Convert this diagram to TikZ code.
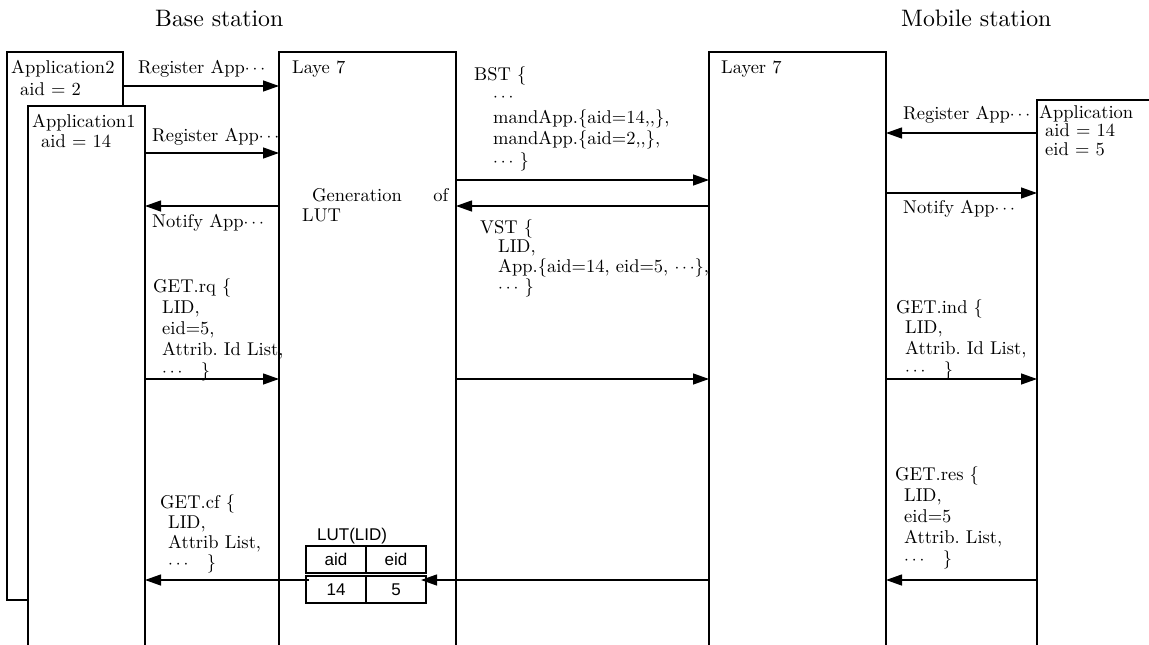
\documentclass[tikz,border=0pt]{standalone}
\usepackage{fontspec}
\setmainfont{lmroman10-regular.otf}
\newfontfamily\lutfont{Liberation Sans}
\usetikzlibrary{arrows.meta, positioning}

\begin{document}
\begin{tikzpicture}[x=1pt, y=-1pt,
    lifeline/.style={draw, line width=1.3pt, fill=white, inner sep=0pt, outer sep=0pt, anchor=north west},
    lbl/.style={inner sep=0pt, anchor=base west, align=left, text width=240pt, font=\fontsize{18.5}{20.7}\selectfont\frenchspacing},
    title/.style={inner sep=0pt, anchor=base west, font=\fontsize{23.8}{28}\selectfont},
    msg/.style={-{Triangle[length=16pt,width=11pt]}, line width=1.3pt},
    cell/.style={draw, line width=1.2pt, inner sep=0pt, outer sep=0pt, minimum width=60pt, minimum height=27pt, font=\lutfont\fontsize{17}{20}\selectfont}
  ]
    \useasboundingbox (0,0) rectangle (1149,645);

    % Titles
    \node (base) [title] at (155,27) {Base station};
    \node (mobile) [title] at (901,26) {Mobile station};

    % Boxes
    \node (app2) [lifeline, minimum width=116pt, minimum height=548pt] at (7,52) {};
    \node (app1) [lifeline, minimum width=117pt, minimum height=560pt] at (28,106) {};
    \node (l7b) [lifeline, minimum width=177pt, minimum height=620pt] at (279,52) {};
    \node (l7m) [lifeline, minimum width=177pt, minimum height=620pt] at (709,52) {};
    \node (appm) [lifeline, minimum width=130pt, minimum height=570pt] at (1037,100) {};

    % Box texts
    \node (app2txt) [lbl, font=\fontsize{18.5}{22}\selectfont] at (11,73) {Application2\\\hspace*{9pt}aid = 2};
    \node (app1txt) [lbl, font=\fontsize{18.5}{20}\selectfont] at (32,127) {Application1\\\hspace*{9pt}aid = 14};
    \node (l7btxt) [lbl] at (292,73) {Laye 7};
    \node (l7mtxt) [lbl] at (721,73) {Layer 7};
    \node (appmtxt) [lbl, font=\fontsize{18.5}{18.5}\selectfont] at (1039,118) {Application\\\hspace*{6pt}aid = 14\\\hspace*{6pt}eid = 5};
    \node (gen) [lbl, text width=146pt] at (302,201) {\hspace*{10pt}Generation\hfill of\\LUT};

    % Messages, base station side
    \draw [msg] (app2.east |- 0,86) -- (l7b.west |- 0,86);
    \node (reg2) [lbl] at (138,73) {Register App$\cdots$};
    \draw [msg] (app1.east |- 0,153) -- (l7b.west |- 0,153);
    \node (reg1) [lbl] at (152,141) {Register App$\cdots$};
    \draw [msg] (l7b.west |- 0,206) -- (app1.east |- 0,206);
    \node (notb) [lbl] at (152,227) {Notify App$\cdots$};
    \draw [msg] (app1.east |- 0,379) -- (l7b.west |- 0,379);
    \node (getrq) [lbl, font=\fontsize{18.5}{21}\selectfont\frenchspacing] at (153,292) {GET.rq \{\\\hspace*{9pt}LID,\\\hspace*{9pt}eid=5,\\\hspace*{9pt}Attrib. Id List,\\\hspace*{9pt}$\cdots$\quad\}};

    % Messages between the layers
    \draw [msg] (l7b.east |- 0,180) -- (l7m.west |- 0,180);
    \node (bst) [lbl, font=\fontsize{18.5}{21.5}\selectfont] at (474,80) {BST \{\\\hspace*{19pt}$\cdots$\\\hspace*{19pt}mandApp.\{aid=14,\kern0pt,\},\\\hspace*{19pt}mandApp.\{aid=2,\kern0pt,\},\\\hspace*{19pt}$\cdots$ \}};
    \draw [msg] (l7m.west |- 0,206) -- (l7b.east |- 0,206);
    \node (vst) [lbl, font=\fontsize{18.5}{19.7}\selectfont] at (480,233) {VST \{\\\hspace*{18pt}LID,\\\hspace*{18pt}App.\{aid=14, eid=5, $\cdots$\},\\\hspace*{18pt}$\cdots$ \}};
    \draw [msg] (l7b.east |- 0,379) -- (l7m.west |- 0,379);

    % Messages, mobile station side
    \draw [msg] (appm.west |- 0,133) -- (l7m.east |- 0,133);
    \node (regm) [lbl] at (903,119) {Register App$\cdots$};
    \draw [msg] (l7m.east |- 0,193) -- (appm.west |- 0,193);
    \node (notm) [lbl] at (903,213) {Notify App$\cdots$};
    \draw [msg] (l7m.east |- 0,379) -- (appm.west |- 0,379);
    \node (getind) [lbl] at (896,313) {GET.ind \{\\\hspace*{9pt}LID,\\\hspace*{9pt}Attrib. Id List,\\\hspace*{9pt}$\cdots$\quad\}};
    \draw [msg] (appm.west |- 0,580) -- (l7m.east |- 0,580);
    \node (getres) [lbl, font=\fontsize{18.5}{21.2}\selectfont\frenchspacing] at (895,480) {GET.res \{\\\hspace*{9pt}LID,\\\hspace*{9pt}eid=5\\\hspace*{9pt}Attrib. List,\\\hspace*{9pt}$\cdots$\quad\}};

    % LUT
    \node (lutA) [cell, anchor=north west] at (306,546) {aid};
    \node (lutE) [cell, right=0pt of lutA] {eid};
    \node (v14) [cell, below=3pt of lutA] {14};
    \node (v5) [cell, right=0pt of v14] {5};
    \node (lut) [inner sep=0pt, anchor=base west, font=\lutfont\fontsize{17}{20}\selectfont] at (317,540) {LUT(LID)};
    \draw [msg, shorten >=-5pt] (l7m.west |- 0,580) -- (v5.east |- 0,580);
    \draw [msg, shorten <=-3pt] (v14.west |- 0,580) -- (app1.east |- 0,580);
    \node (getcf) [lbl, font=\fontsize{18.5}{20}\selectfont] at (160,508) {GET.cf \{\\\hspace*{8pt}LID,\\\hspace*{8pt}Attrib List,\\\hspace*{8pt}$\cdots$\quad\}};

  \end{tikzpicture}
\end{document}
